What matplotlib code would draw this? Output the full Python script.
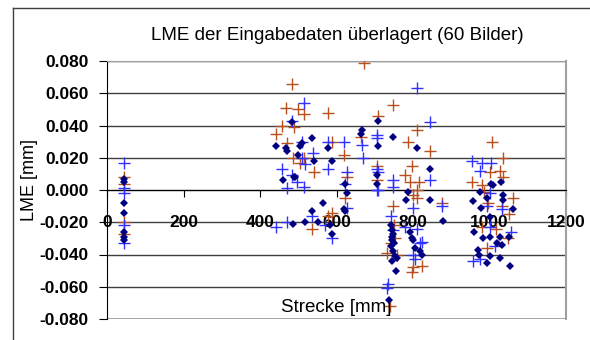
import matplotlib
matplotlib.use("Agg")
import matplotlib.pyplot as plt
from matplotlib.lines import Line2D

# Strecke [mm] / LME [mm] per series
raute_x = [44, 44, 44, 44, 44, 44, 44,
           484, 667, 665, 536, 708, 442, 468, 470, 510, 505, 578, 708, 499, 541, 588, 489, 491,
           460, 622, 627, 565, 536, 620, 518, 486, 552, 583, 588, 622,
           706, 706, 748, 810, 844, 782, 844, 787, 878,
           742, 745, 748, 744, 746, 750, 743, 747, 752, 745, 758, 755, 737,
           797, 800, 805, 818, 823, 793,
           1004, 1009, 1030, 975, 993, 1035, 1035, 957, 978, 1061, 1001, 959, 983, 1001,
           1027, 1052, 1020, 1032, 970, 973, 1001, 993, 1027, 1054]
raute_y = [0.007, 0.005, -0.008, -0.014, -0.026, -0.029, -0.031,
           0.042, 0.037, 0.035, 0.032, 0.043, 0.027, 0.026, 0.024, 0.029, 0.027, 0.026, 0.027, 0.022, 0.018, 0.018, 0.008, 0.008,
           0.006, 0.004, -0.002, -0.008, -0.013, -0.012, -0.020, -0.021, -0.020, -0.022, -0.027, -0.013,
           0.009, 0.004, 0.033, 0.026, 0.013, -0.006, -0.006, -0.001, -0.019,
           -0.022, -0.025, -0.027, -0.029, -0.031, -0.033, -0.035, -0.038, -0.041, -0.044, -0.042, -0.050, -0.068,
           -0.030, -0.031, -0.036, -0.038, -0.040, -0.026,
           0.004, 0.003, 0.005, -0.001, -0.005, -0.003, -0.006, -0.007, -0.011, -0.012, -0.017, -0.026, -0.030, -0.029,
           -0.029, -0.029, -0.033, -0.034, -0.037, -0.040, -0.041, -0.045, -0.042, -0.047]

orange_x = [44, 44, 44, 44,
            672, 484, 468, 500, 515, 578, 457, 489, 442, 470, 588, 664, 620, 486, 515, 505, 541, 627, 622, 588, 578, 536,
            708, 748, 810, 787, 844, 706, 706, 797, 779, 792, 816, 800, 810, 748, 876, 810, 753, 732, 758, 800, 823, 797,
            740, 750, 742,
            1006, 1036, 1001, 1027, 954, 980, 1036, 985, 1061, 996, 1032, 1052, 980, 1017, 1048, 993]
orange_y = [0.008, 0.004, -0.020, -0.027,
            0.079, 0.066, 0.051, 0.050, 0.047, 0.048, 0.040, 0.039, 0.035, 0.029, 0.030, 0.033, 0.022, 0.020, 0.020, 0.017, 0.011, 0.008, -0.005, -0.014, -0.016, -0.024,
            0.046, 0.053, 0.037, 0.030, 0.024, 0.015, 0.006, 0.015, 0.009, 0.005, 0.005, -0.003, -0.005, -0.010, -0.008, 0.000, -0.030, -0.039, -0.040, -0.048, -0.047, -0.051,
            -0.072, -0.022, -0.033,
            0.030, 0.020, 0.011, 0.012, 0.005, 0.003, 0.008, -0.001, -0.005, -0.008, -0.010, -0.015, -0.023, -0.024, -0.030, -0.036]

blau_x = [44, 44, 44, 44, 44,
          515, 484, 510, 578, 620, 667, 706, 670, 539, 510, 518, 457, 578, 708, 484, 497, 470, 515, 627, 622, 708,
          627, 536, 470, 442, 570, 588,
          810, 844, 706, 706, 706, 748, 748, 844, 876, 800, 742, 779, 810, 818, 823, 800, 805, 735, 732, 748,
          954, 980, 1004, 975, 1001, 993, 1032, 1001, 1056, 1014, 957, 975]
blau_y = [0.017, -0.002, -0.022, -0.033, 0.001,
          0.054, 0.043, 0.030, 0.030, 0.030, 0.028, 0.032, 0.020, 0.023, 0.020, 0.016, 0.013, 0.013, 0.011, 0.009, 0.005, 0.001, 0.002, 0.011, 0.004, 0.000,
          -0.011, -0.016, -0.020, -0.023, -0.022, -0.030,
          0.063, 0.042, 0.034, 0.013, 0.000, 0.006, 0.002, 0.006, -0.010, -0.011, -0.016, -0.023, -0.024, -0.033, -0.032, -0.040, -0.043, -0.058, -0.061, -0.025,
          0.018, 0.017, 0.017, 0.012, -0.002, -0.010, -0.012, -0.023, -0.026, -0.035, -0.044, -0.043]

yticks = [-0.08, -0.06, -0.04, -0.02, 0.0, 0.02, 0.04, 0.06, 0.08]
xticks = [0, 200, 400, 600, 800, 1000, 1200]

plt.rcParams['font.family'] = 'Liberation Sans'
plt.rcParams['axes.unicode_minus'] = False

fig = plt.figure(figsize=(5.9, 3.4), dpi=100)
ax = fig.add_axes([107/590, 21/340, 459/590, 258/340])

ax.plot(orange_x, orange_y, '+', color='#b8501e', ms=8.5, mew=1, zorder=3)
ax.plot(blau_x, blau_y, '+', color='#3030ff', ms=8.5, mew=1, zorder=3)
ax.plot(raute_x, raute_y, 'D', color='#000080', ms=4, mew=0, zorder=4)

ax.set_xlim(0, 1200)
ax.set_ylim(-0.08, 0.08)
ax.set_xticks(xticks)
ax.set_yticks(yticks)
ax.set_yticklabels(["%.3f" % v for v in yticks])
ax.set_xticklabels([str(v) for v in xticks])

for v in yticks:
    ax.axhline(v, color='#404040', lw=1, zorder=1)

ax.spines['bottom'].set_position(('data', 0))
ax.spines['bottom'].set_color('black')
ax.spines['left'].set_color('black')
ax.spines['top'].set_color('#a0a0a0')
ax.spines['right'].set_color('#a0a0a0')
ax.spines['right'].set_linewidth(1.5)
ax.axhline(-0.08, color='#a0a0a0', lw=2, zorder=2)

ax.tick_params(axis='y', direction='out', length=6, pad=7, labelsize=12.5)
ax.tick_params(axis='x', direction='out', length=5, pad=13, labelsize=12.5)
for lab in ax.get_xticklabels() + ax.get_yticklabels():
    lab.set_fontweight('bold')
    lab.set_zorder(10)

ax.text(0.5, 0.045, 'Strecke [mm]', transform=ax.transAxes, ha='center', va='center', fontsize=13.5)
fig.text(337/590, 1 - 36/340, 'LME der Eingabedaten überlagert (60 Bilder)', ha='center', va='center', fontsize=13.5)
fig.text(29/590, 1 - 180/340, 'LME [mm]', rotation=90, ha='center', va='center', fontsize=13)

# Rahmen vom Diagrammbereich
fig.add_artist(Line2D([13/590, 1], [1 - 8/340, 1 - 8/340], color='#404040', lw=1, transform=fig.transFigure))
fig.add_artist(Line2D([13/590, 13/590], [0, 1 - 8/340], color='#404040', lw=1, transform=fig.transFigure))

plt.savefig("out.png", dpi=100)
